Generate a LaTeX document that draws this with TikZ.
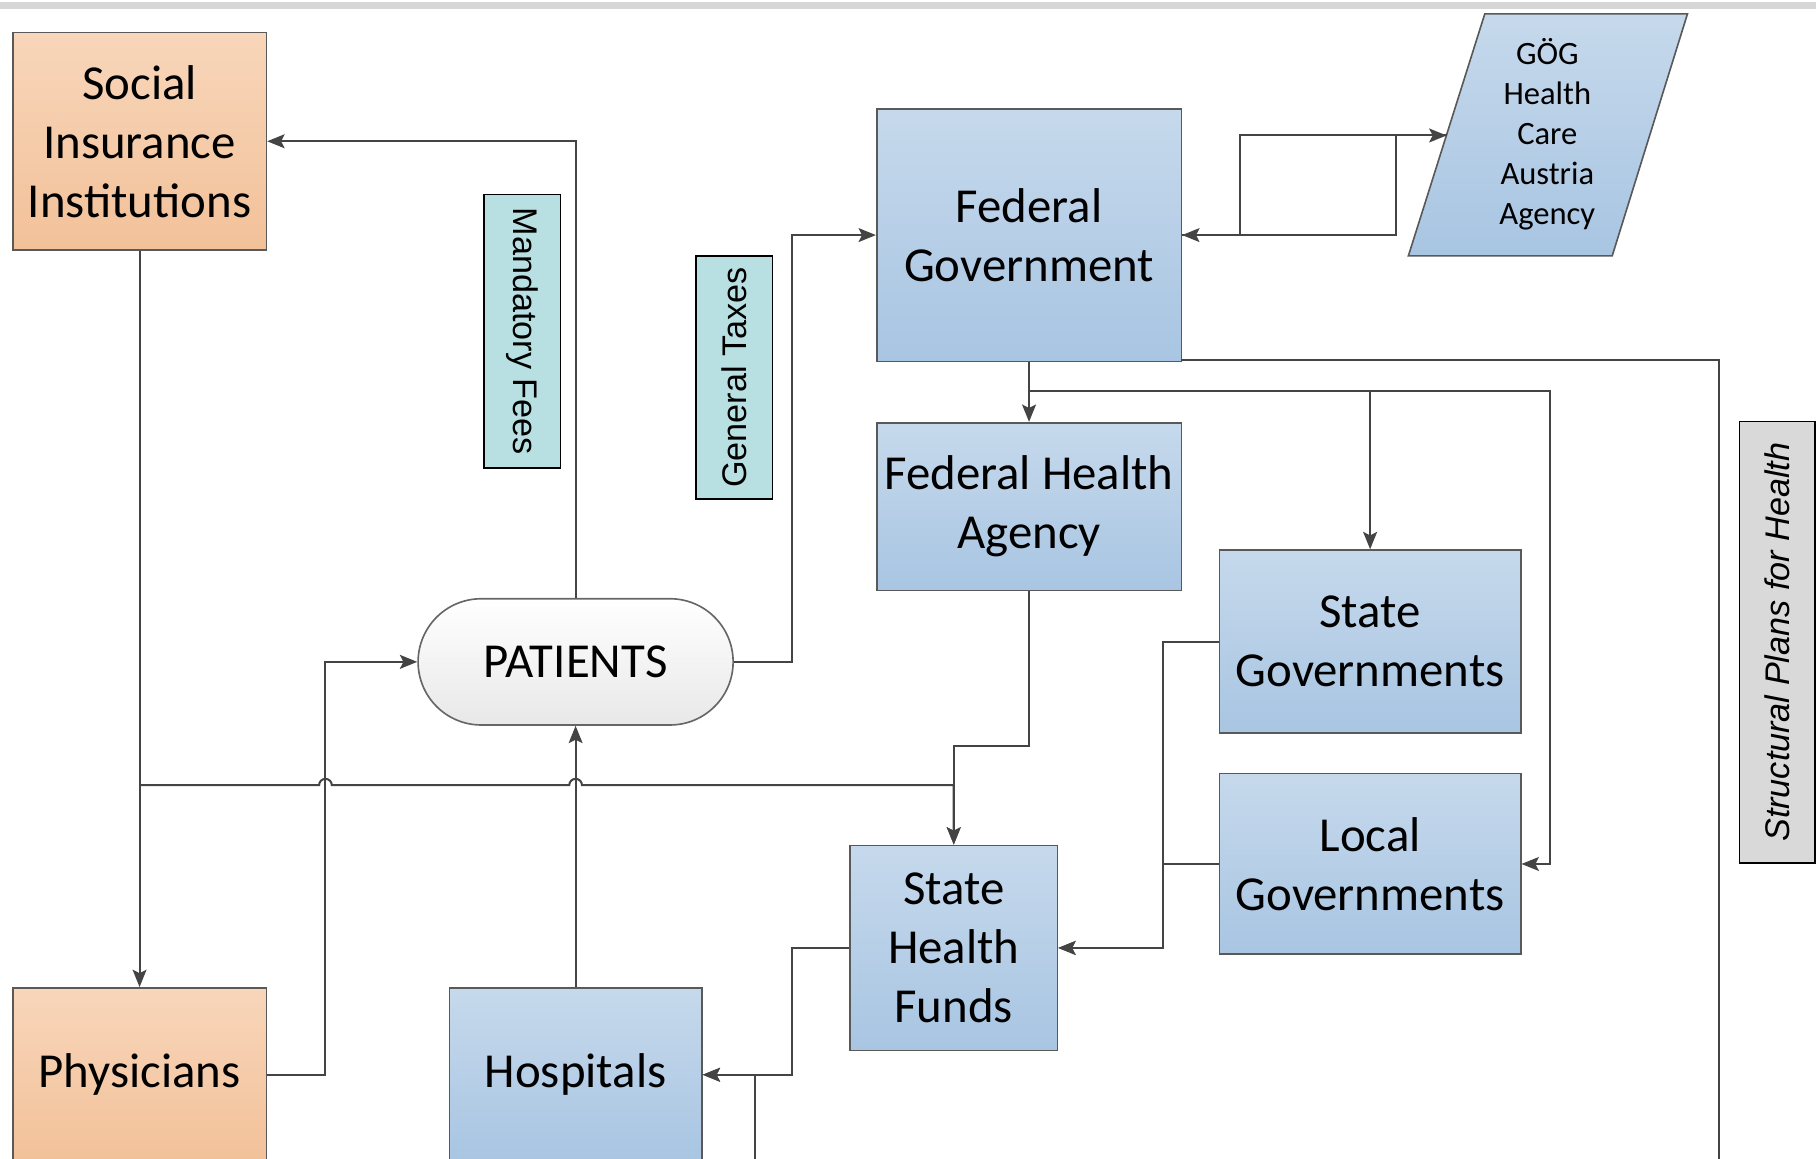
\documentclass[tikz,border=0pt]{standalone}
\usepackage{fontspec}
\setmainfont{Carlito}
\newfontfamily\labelfont{Liberation Sans}
\usetikzlibrary{arrows.meta}

\definecolor{linegray}{HTML}{444444}
\definecolor{bluetop}{HTML}{C6D9EC}
\definecolor{bluebot}{HTML}{A8C5E2}
\definecolor{orangetop}{HTML}{F8D6BA}
\definecolor{orangebot}{HTML}{F2C199}
\definecolor{labelcyan}{HTML}{B8E0E2}
\definecolor{sidegray}{HTML}{D9D9D9}
\definecolor{topbar}{HTML}{D6D6D6}

\tikzset{blue box/.style={draw=black!65,top color=bluetop,bottom color=bluebot,align=center,font=\fontsize{12}{14.5}\selectfont,inner sep=0cm},
orange box/.style={draw=black!65,top color=orangetop,bottom color=orangebot,align=center,font=\fontsize{12}{14.5}\selectfont,inner sep=0cm},
patient node/.style={draw=black!60,top color=white,bottom color=black!9,rounded corners=0.545cm,font=\fontsize{12}{14.5}\selectfont,inner sep=0cm},
flow label/.style={draw=black,fill=labelcyan,font=\labelfont\fontsize{8.4}{10}\selectfont,inner sep=0cm,minimum height=0.66cm},
side label/.style={draw=black,fill=sidegray,font=\labelfont\itshape\fontsize{8.4}{10}\selectfont,inner sep=0cm,minimum height=0.65cm},
link/.style={draw=linegray,line width=0.5pt},
flow arrow/.style={link,-{Stealth[length=0.15cm,width=0.12cm,inset=0.03cm]}}}

\begin{document}
\begin{tikzpicture}
\clip (0,0) rectangle (15.68,10);
\fill [topbar] (0,9.92) rectangle (15.68,9.98);

%% boxes
\node [orange box,minimum width=2.19cm,minimum height=1.88cm] (social) at (1.205,8.78) {Social\\Insurance\\Institutions};
\node [orange box,minimum width=2.19cm,minimum height=1.50cm] (phys) at (1.205,0.72) {Physicians};
\node [blue box,minimum width=2.18cm,minimum height=1.50cm] (hosp) at (4.97,0.72) {Hospitals};
\node [patient node,minimum width=2.72cm,minimum height=1.09cm] (pat) at (4.97,4.285) {PATIENTS};
\node [blue box,minimum width=2.63cm,minimum height=2.18cm] (fed) at (8.885,7.97) {Federal\\Government};
\node [blue box,minimum width=2.63cm,minimum height=1.45cm] (fha) at (8.885,5.625) {Federal Health\\Agency};
\node [blue box,minimum width=2.60cm,minimum height=1.58cm] (sg) at (11.83,4.46) {State\\Governments};
\node [blue box,minimum width=2.60cm,minimum height=1.56cm] (lg) at (11.83,2.54) {Local\\Governments};
\node [blue box,minimum width=1.79cm,minimum height=1.77cm] (shf) at (8.235,1.815) {State\\Health\\Funds};

%% parallelogram for the agency
\coordinate (gogtl) at (12.82,9.88);
\coordinate (gogtr) at (14.57,9.88);
\coordinate (gogbr) at (13.92,7.79);
\coordinate (gogbl) at (12.16,7.79);
\path [draw=black!65,top color=bluetop,bottom color=bluebot] (gogbl) -- (gogtl) -- (gogtr) -- (gogbr) -- cycle;
\node [align=center,font=\fontsize{8}{9.8}\selectfont,inner sep=0cm] (gog) at (13.36,8.84) {GÖG\\Health\\Care\\Austria\\Agency};
\coordinate (goge) at (12.49,8.83);

%% labels
\node [flow label,rotate=-90,minimum width=2.36cm] (fees) at (4.51,7.14) {Mandatory Fees};
\node [flow label,rotate=90,minimum width=2.10cm] (taxes) at (6.34,6.74) {General Taxes};
\node [side label,rotate=90,minimum width=3.81cm] (plans) at (15.345,4.455) {Structural Plans for Health};

%% bend points
\coordinate (sj) at (1.205,3.22);
\coordinate (fhab) at (8.885,3.56);
\coordinate (fb) at (8.885,6.62);
\coordinate (fc) at (10.20,6.89);

%% connectors
\draw [flow arrow] (pat.north) |- (social.east);
\draw [flow arrow] (social.south) -- (phys.north);
\draw [flow arrow] (sj) -- (2.755,3.22) arc [start angle=180,end angle=0,radius=0.055]
  -- (4.915,3.22) arc [start angle=180,end angle=0,radius=0.055] -| (shf.north);
\draw [flow arrow] (fha.south) -- (fhab) -| (shf.north);
\draw [flow arrow] (phys.east) -- (2.81,0.72) |- (pat.west);
\draw [flow arrow] (hosp.north) -- (pat.south);
\draw [flow arrow] (pat.east) -- (6.84,4.285) |- (fed.west);
\draw [flow arrow] (fed.east) -- (10.71,7.97) |- (goge);
\draw [flow arrow] (goge) -- (12.05,8.83) |- (fed.east);
\draw [flow arrow] (fed.south) -- (fha.north);
\draw [flow arrow] (fb) -| (sg.north);
\draw [flow arrow] (fb) -- (13.38,6.62) |- (lg.east);
\draw [flow arrow] (fc) -- (14.84,6.89) -- (14.84,-0.3) -- (6.52,-0.3) |- (hosp.east);
\draw [flow arrow] (sg.west) -- (10.04,4.46) |- (shf.east);
\draw [flow arrow] (lg.west) -- (10.04,2.54) |- (shf.east);
\draw [flow arrow] (shf.west) -- (6.84,1.815) |- (hosp.east);

\end{tikzpicture}
\end{document}
